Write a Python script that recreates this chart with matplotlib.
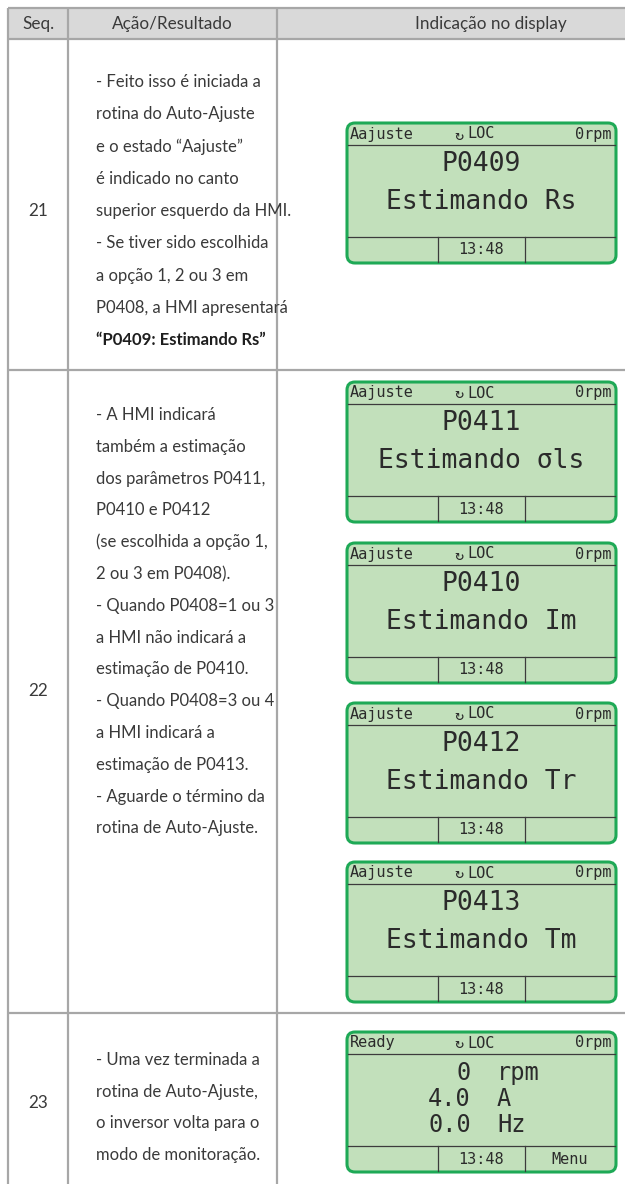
import matplotlib.pyplot as plt
from matplotlib.patches import FancyBboxPatch, Rectangle

plt.rcParams['font.family'] = ['Lato', 'DejaVu Sans']

# conteudo da tabela
cabecalho = ['Seq.', 'Ação/Resultado', 'Indicação no display']
seq = ['21', '22', '23']

acao_21 = ['- Feito isso é iniciada a',
           'rotina do Auto-Ajuste',
           'e o estado “Aajuste”',
           'é indicado no canto',
           'superior esquerdo da HMI.',
           '- Se tiver sido escolhida',
           'a opção 1, 2 ou 3 em',
           'P0408, a HMI apresentará']
destaque_21 = '“P0409: Estimando Rs”'

acao_22 = ['- A HMI indicará',
           'também a estimação',
           'dos parâmetros P0411,',
           'P0410 e P0412',
           '(se escolhida a opção 1,',
           '2 ou 3 em P0408).',
           '- Quando P0408=1 ou 3',
           'a HMI não indicará a',
           'estimação de P0410.',
           '- Quando P0408=3 ou 4',
           'a HMI indicará a',
           'estimação de P0413.',
           '- Aguarde o término da',
           'rotina de Auto-Ajuste.']

acao_23 = ['- Uma vez terminada a',
           'rotina de Auto-Ajuste,',
           'o inversor volta para o',
           'modo de monitoração.']

# conteudo dos displays
estado = ['Aajuste', 'Aajuste', 'Aajuste', 'Aajuste', 'Aajuste', 'Ready']
parametro = ['P0409', 'P0411', 'P0410', 'P0412', 'P0413']
estimando = ['Estimando Rs', 'Estimando σls', 'Estimando Im',
             'Estimando Tr', 'Estimando Tm']
monit_valor = ['0', '4.0', '0.0']
monit_unid = ['rpm', 'A', 'Hz']
modo = 'LOC'
velocidade = '0rpm'
relogio = '13:48'
menu = 'Menu'

W, H = 625, 1184
fig = plt.figure(figsize=(W / 100, H / 100), dpi=100)
ax = fig.add_axes([0, 0, 1, 1])
ax.set_xlim(0, W)
ax.set_ylim(H, 0)
ax.axis('off')

cinza = '#a7a7a7'
texto = '#3a3a3a'
lcd_txt = '#2b2b2b'
mono = ['DejaVu Sans Mono', 'DejaVu Sans']

# grade da tabela
ax.add_patch(Rectangle((8, 8), W - 8, 31, facecolor='#d9d9d9', edgecolor='none'))
for x in [8, 68, 277]:
    ax.plot([x, x], [8, H], color=cinza, lw=1.6, solid_capstyle='butt')
for y in [8, 39, 370, 1013]:
    ax.plot([8, W], [y, y], color=cinza, lw=1.6, solid_capstyle='butt')

for txt, xc in zip(cabecalho, [38, 172, 491]):
    ax.text(xc, 24, txt, ha='center', va='center', fontsize=12.3, color=texto)

for s, yc in zip(seq, [211, 691, 1103]):
    ax.text(38, yc, s, ha='center', va='center', fontsize=12.3, color=texto)

def linhas(lista, y0, passo):
    for i, l in enumerate(lista):
        ax.text(96, y0 + i * passo, l, ha='left', va='center',
                fontsize=12, color=texto)

linhas(acao_21, 82, 32.3)
ax.text(96, 82 + 8 * 32.3, destaque_21, ha='left', va='center',
        fontsize=12, color='#1e1e1e', fontweight='bold')
linhas(acao_22, 415, 31.8)
linhas(acao_23, 1060, 31.7)

# displays
L, R = 347, 616
def display(topo, est, rodape_dir=''):
    ax.add_patch(FancyBboxPatch((L, topo), R - L, 140,
                                boxstyle='round,pad=0,rounding_size=8',
                                facecolor='#c2e0bb', edgecolor='#1ea956', lw=2.2))
    ax.plot([L + 1, R - 1], [topo + 22, topo + 22], color='#3c3c3c', lw=0.9)
    ax.plot([L + 1, R - 1], [topo + 114, topo + 114], color='#3c3c3c', lw=0.9)
    for x in [438, 525]:
        ax.plot([x, x], [topo + 114, topo + 139], color='#3c3c3c', lw=0.9)
    ax.text(350, topo + 11, est, ha='left', va='center', fontsize=11,
            family=mono, color=lcd_txt)
    ax.text(459, topo + 12, '↻', ha='center', va='center', fontsize=11,
            family=mono, color=lcd_txt)
    ax.text(467, topo + 11, modo, ha='left', va='center', fontsize=11,
            family=mono, color=lcd_txt)
    ax.text(612, topo + 11, velocidade, ha='right', va='center', fontsize=11,
            family=mono, color=lcd_txt)
    ax.text(481, topo + 127, relogio, ha='center', va='center', fontsize=11,
            family=mono, color=lcd_txt)
    if rodape_dir:
        ax.text(570, topo + 127, rodape_dir, ha='center', va='center',
                fontsize=11, family=mono, color=lcd_txt)

topos = [123, 382, 543, 703, 862]
for t, e, p, m in zip(topos, estado, parametro, estimando):
    display(t, e)
    ax.text(481, t + 41, p, ha='center', va='center', fontsize=19,
            family=mono, color=lcd_txt)
    ax.text(481, t + 79, m, ha='center', va='center', fontsize=19,
            family=mono, color=lcd_txt)

t6 = 1032
display(t6, estado[5], menu)
for i, (v, u) in enumerate(zip(monit_valor, monit_unid)):
    yy = t6 + 41 + i * 26
    ax.text(471, yy, v, ha='right', va='center', fontsize=17,
            family=mono, color=lcd_txt)
    ax.text(497, yy, u, ha='left', va='center', fontsize=17,
            family=mono, color=lcd_txt)

fig.savefig('out.png', dpi=100)
